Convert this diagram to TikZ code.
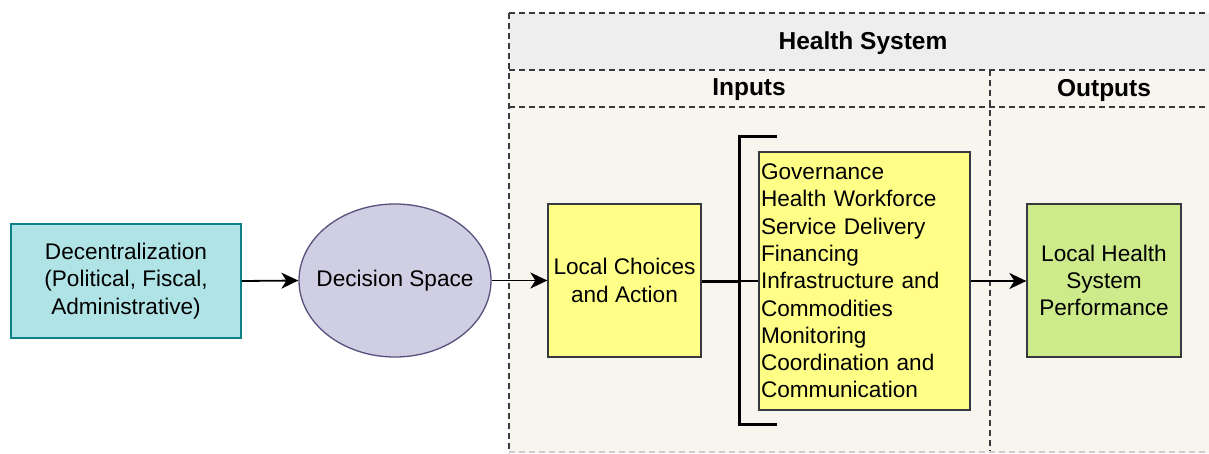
\documentclass[tikz,border=0pt]{standalone}
\usepackage{fontspec}
\setmainfont{Liberation Sans}
\usetikzlibrary{arrows.meta,shapes.geometric}
\definecolor{hdrgray}{HTML}{EEEEEE}
\definecolor{lanebg}{HTML}{F8F5EE}
\definecolor{dashcol}{HTML}{36393D}
\definecolor{tealfill}{HTML}{B0E3E6}
\definecolor{tealdraw}{HTML}{0E8088}
\definecolor{purpfill}{HTML}{D0CEE2}
\definecolor{purpdraw}{HTML}{56517E}
\definecolor{yelfill}{HTML}{FFFF88}
\definecolor{greenfill}{HTML}{CDEB8B}
\definecolor{boxdraw}{HTML}{36393D}
\tikzset{
  txt/.style={font=\fontsize{22.6}{27.3}\selectfont, align=center, inner sep=0pt},
  hdrtxt/.style={font=\bfseries\fontsize{24.5}{29}\selectfont, inner sep=0pt},
  lanedash/.style={draw=dashcol, line width=1.2pt, dash pattern=on 6pt off 4pt},
  box/.style={txt, rectangle, draw=boxdraw, line width=1.3pt},
  conn/.style={line width=1.8pt, -{Stealth[length=17pt,width=16pt,inset=5pt]}},
}
\begin{document}
\begin{tikzpicture}[x=1pt,y=-1pt]
\useasboundingbox (0,0) rectangle (1209,453);
% container
\fill[hdrgray] (509,13) rectangle (1218,70);
\fill[lanebg] (509,70) rectangle (1218,453);
\draw[lanedash] (509,13) -- (1218,13);
\draw[lanedash] (509,13) -- (509,453);
\draw[lanedash] (509,70) -- (1218,70);
\draw[lanedash] (509,107) -- (1218,107);
\draw[lanedash] (990,70) -- (990,453);
\draw[draw=black!20, line width=1.2pt, dash pattern=on 6pt off 4pt] (509,452) -- (1218,452);
\node[hdrtxt] (hs) at (863,43.5) {Health System};
\node[hdrtxt] (inp) at (749,90) {Inputs};
\node[hdrtxt] (outp) at (1104,90) {Outputs};
% nodes
\node[box, fill=tealfill, draw=tealdraw, minimum width=230pt, minimum height=114pt] (dec) at (126,281)
  {Decentralization\\(Political, Fiscal,\\Administrative)};
\node[txt, ellipse, fill=purpfill, draw=purpdraw, line width=1.3pt, inner xsep=-12pt, minimum width=192pt, minimum height=153pt] (ds) at (395,280.5) {Decision Space};
\node[box, fill=yelfill, minimum width=153pt, minimum height=153pt] (lc) at (624.5,280.5) {Local Choices\\and Action};
\node[box, fill=yelfill, minimum width=211pt, minimum height=258pt, align=left, text width=207pt] (list) at (864.5,281)
  {Governance\\Health Workforce\\Service Delivery\\Financing\\Infrastructure and\\Commodities\\Monitoring\\Coordination and\\Communication};
\node[box, fill=greenfill, minimum width=154pt, minimum height=153pt] (lhs) at (1104,280.5) {Local Health\\System\\Performance};
% bracket
\coordinate (bt) at (777,136);
\coordinate (bb) at (777,424);
\coordinate (bm) at (739,281);
\draw[line width=3pt] (bt) -- (739,136) -- (739,424) -- (bb);
% connectors
\draw[conn] (dec.east) -- (ds.west);
\draw[conn] (ds.east) -- (lc.west);
\draw[line width=3pt] (lc.east |- bm) -- (bm);
\draw[line width=1.5pt] (bm) -- (list.west |- bm);
\draw[conn] (list.east |- bm) -- (lhs.west |- bm);
\end{tikzpicture}
\end{document}
